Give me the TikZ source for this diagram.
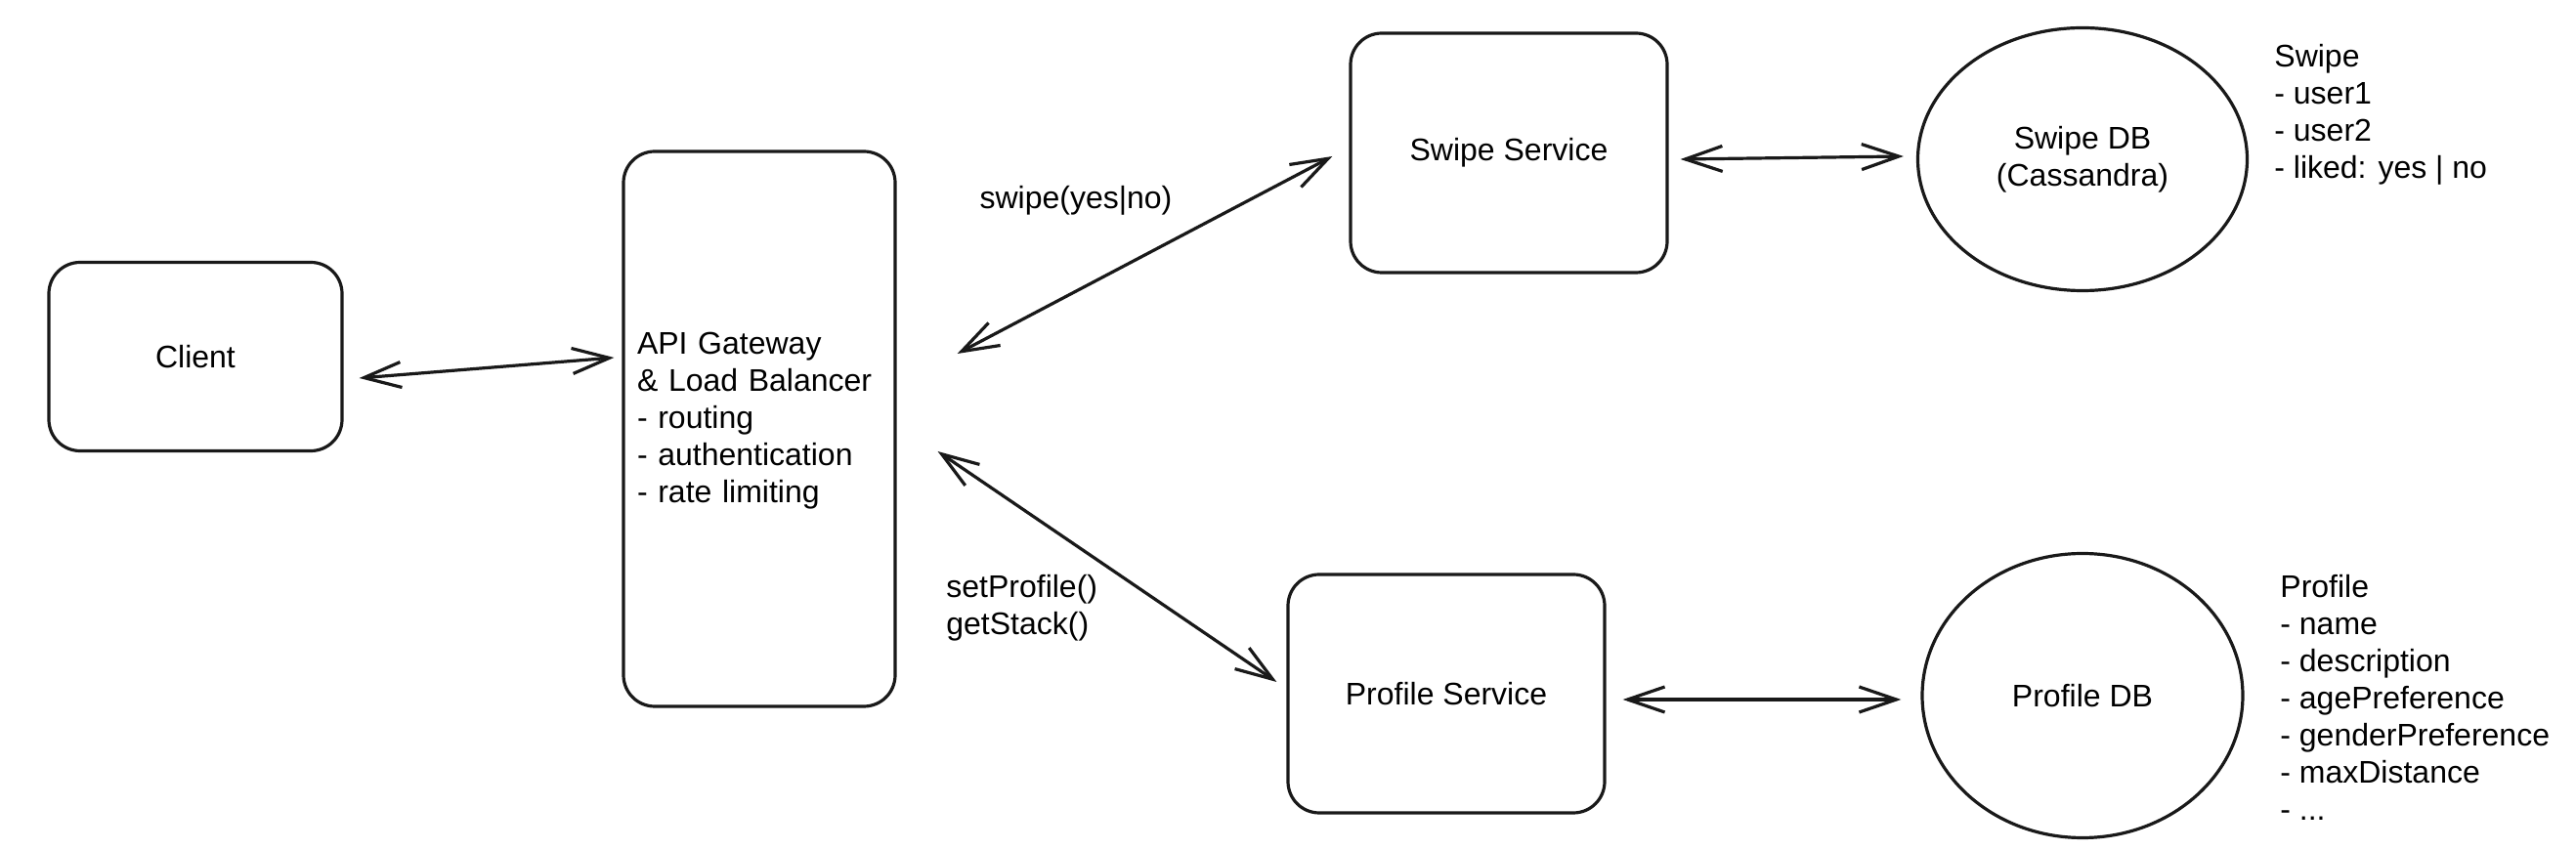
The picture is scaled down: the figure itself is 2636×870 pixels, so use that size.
\documentclass[tikz,border=0pt]{standalone}
\usepackage{fontspec}
\setmainfont{Liberation Sans}
\usetikzlibrary{arrows.meta,calc,shapes.geometric}
\tikzset{
  box/.style={draw=black!90, line width=1.6pt, rounded corners=16pt, fill=white, font=\fs, align=center},
  dbcircle/.style={draw=black!90, line width=1.6pt, ellipse, fill=white, font=\fs, align=center, inner sep=0pt},
  conn/.style={draw=black!90, line width=1.6pt, {Straight Barb[length=19pt,width=13pt,line width=1.6pt]}-{Straight Barb[length=19pt,width=13pt,line width=1.6pt]}},
  lbl/.style={font=\fs, align=left, inner sep=0pt}
}
\newcommand{\fs}{\fontsize{16}{19}\selectfont}
\begin{document}
\begin{tikzpicture}[x=0.5pt,y=-0.5pt]
\useasboundingbox (0,0) rectangle (2636,870);
\fill[white] (0,0) rectangle (2636,870);
% nodes
\node[box, minimum width=150pt, minimum height=96.5pt] (client) at (200,365) {Client};
\node[box, minimum width=139pt, minimum height=284pt, text width=125pt, align=left, inner sep=7pt] (api) at (777,439)
  {API Gateway\\\& Load Balancer\\- routing\\- authentication\\- rate limiting\\[-7pt]\mbox{}};
\node[box, minimum width=162pt, minimum height=122.5pt] (swipe) at (1544,156.5) {Swipe Service};
\node[box, minimum width=162pt, minimum height=122pt] (profile) at (1480,710) {Profile Service};
\node[dbcircle, minimum width=168.5pt, minimum height=134.5pt] (swipedb) at (2131,163) {Swipe DB\\(Cassandra)};
\node[dbcircle, minimum width=164pt, minimum height=145.5pt] (profiledb) at (2131,712) {Profile DB};
% labels
\node[lbl] (swipelbl) at (1101,205) {swipe(yes|no)};
\node[lbl, anchor=west] (proflbl) at (968,622) {setProfile()\\getStack()};
\node[lbl, anchor=west] (swipenote) at (2327,117) {Swipe\\- user1\\- user2\\- liked: yes | no};
\node[lbl, anchor=west] (profnote) at (2333,714) {Profile\\- name\\- description\\- agePreference\\- genderPreference\\- maxDistance\\- ...};
% connectors
\draw[conn] ($(client.east)+(16,22)$) -- ($(api.west)+(-8,-73)$);
\draw[conn] ($(api.east)+(62,-77)$) -- ($(swipe.west)+(-17,3.5)$);
\draw[conn] ($(api.east)+(42,23)$) -- ($(profile.west)+(-10,-12)$);
\draw[conn] ($(swipe.east)+(12,6.5)$) -- ($(swipedb.west)+(-13,-3)$);
\draw[conn] ($(profile.east)+(17,6)$) -- ($(profiledb.west)+(-20,4)$);
\end{tikzpicture}
\end{document}
